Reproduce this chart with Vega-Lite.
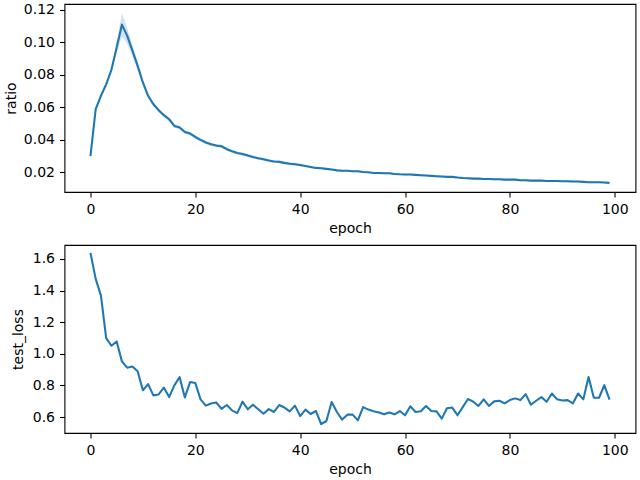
{
"$schema": "https://vega.github.io/schema/vega-lite/v6.json",
"padding": {"left": 3.5, "top": 1, "right": 5, "bottom": 5},
"spacing": 8,
"background": "white",
"config": {
  "font": "DejaVu Sans",
  "view": {"stroke": "black", "strokeWidth": 1.1},
  "axis": {"grid": false, "domain": false, "tickColor": "black", "tickSize": 5, "tickWidth": 1.1, "labelPadding": 5, "labelFontSize": 14, "labelColor": "black", "titleFontSize": 14, "titleFontWeight": "normal", "titleColor": "black", "labelFont": "DejaVu Sans", "titleFont": "DejaVu Sans", "labelFlush": false, "labelOverlap": false}
},
"data": {"values": [
{"epoch":0,"ratio":0.030,"lo":0.0292,"hi":0.0308,"test_loss":1.638},
{"epoch":1,"ratio":0.0588,"lo":0.0578,"hi":0.0598,"test_loss":1.474},
{"epoch":2,"ratio":0.067,"lo":0.0658,"hi":0.0682,"test_loss":1.368},
{"epoch":3,"ratio":0.074,"lo":0.0725,"hi":0.0755,"test_loss":1.099},
{"epoch":4,"ratio":0.083,"lo":0.081,"hi":0.085,"test_loss":1.051},
{"epoch":5,"ratio":0.0967,"lo":0.0932,"hi":0.1002,"test_loss":1.078},
{"epoch":6,"ratio":0.1107,"lo":0.1035,"hi":0.1179,"test_loss":0.952},
{"epoch":7,"ratio":0.104,"lo":0.099,"hi":0.109,"test_loss":0.912},
{"epoch":8,"ratio":0.0947,"lo":0.0912,"hi":0.0982,"test_loss":0.920},
{"epoch":9,"ratio":0.0854,"lo":0.0829,"hi":0.0879,"test_loss":0.890},
{"epoch":10,"ratio":0.0752,"lo":0.0732,"hi":0.0772,"test_loss":0.769},
{"epoch":11,"ratio":0.067,"lo":0.0655,"hi":0.0685,"test_loss":0.808},
{"epoch":12,"ratio":0.0618,"lo":0.0606,"hi":0.0630,"test_loss":0.737},
{"epoch":13,"ratio":0.0582,"lo":0.0570,"hi":0.0594,"test_loss":0.743},
{"epoch":14,"ratio":0.0551,"lo":0.0539,"hi":0.0563,"test_loss":0.786},
{"epoch":15,"ratio":0.0526,"lo":0.0514,"hi":0.0538,"test_loss":0.726},
{"epoch":16,"ratio":0.0485,"lo":0.0473,"hi":0.0497,"test_loss":0.800},
{"epoch":17,"ratio":0.0475,"lo":0.0463,"hi":0.0487,"test_loss":0.853},
{"epoch":18,"ratio":0.0448,"lo":0.0436,"hi":0.0460,"test_loss":0.724},
{"epoch":19,"ratio":0.0438,"lo":0.0426,"hi":0.0450,"test_loss":0.821},
{"epoch":20,"ratio":0.0417,"lo":0.0405,"hi":0.0429,"test_loss":0.815},
{"epoch":21,"ratio":0.0399,"lo":0.0390,"hi":0.0408,"test_loss":0.712},
{"epoch":22,"ratio":0.0383,"lo":0.0374,"hi":0.0392,"test_loss":0.672},
{"epoch":23,"ratio":0.0372,"lo":0.0363,"hi":0.0381,"test_loss":0.686},
{"epoch":24,"ratio":0.0364,"lo":0.0355,"hi":0.0373,"test_loss":0.692},
{"epoch":25,"ratio":0.0360,"lo":0.0351,"hi":0.0369,"test_loss":0.652},
{"epoch":26,"ratio":0.0342,"lo":0.0333,"hi":0.0351,"test_loss":0.676},
{"epoch":27,"ratio":0.0329,"lo":0.0320,"hi":0.0338,"test_loss":0.642},
{"epoch":28,"ratio":0.0319,"lo":0.0310,"hi":0.0328,"test_loss":0.625},
{"epoch":29,"ratio":0.0313,"lo":0.0304,"hi":0.0322,"test_loss":0.697},
{"epoch":30,"ratio":0.0303,"lo":0.0294,"hi":0.0312,"test_loss":0.649},
{"epoch":31,"ratio":0.0294,"lo":0.0285,"hi":0.0303,"test_loss":0.678},
{"epoch":32,"ratio":0.0286,"lo":0.0277,"hi":0.0295,"test_loss":0.649},
{"epoch":33,"ratio":0.0280,"lo":0.0271,"hi":0.0289,"test_loss":0.621},
{"epoch":34,"ratio":0.0272,"lo":0.0263,"hi":0.0281,"test_loss":0.650},
{"epoch":35,"ratio":0.0266,"lo":0.0257,"hi":0.0275,"test_loss":0.632},
{"epoch":36,"ratio":0.0264,"lo":0.0255,"hi":0.0273,"test_loss":0.676},
{"epoch":37,"ratio":0.0258,"lo":0.0249,"hi":0.0267,"test_loss":0.660},
{"epoch":38,"ratio":0.0253,"lo":0.0244,"hi":0.0262,"test_loss":0.636},
{"epoch":39,"ratio":0.0249,"lo":0.0240,"hi":0.0258,"test_loss":0.672},
{"epoch":40,"ratio":0.0245,"lo":0.0236,"hi":0.0254,"test_loss":0.606},
{"epoch":41,"ratio":0.0239,"lo":0.0233,"hi":0.0245,"test_loss":0.647},
{"epoch":42,"ratio":0.0233,"lo":0.0227,"hi":0.0239,"test_loss":0.619},
{"epoch":43,"ratio":0.0227,"lo":0.0221,"hi":0.0233,"test_loss":0.638},
{"epoch":44,"ratio":0.0225,"lo":0.0219,"hi":0.0231,"test_loss":0.556},
{"epoch":45,"ratio":0.0221,"lo":0.0215,"hi":0.0227,"test_loss":0.575},
{"epoch":46,"ratio":0.0217,"lo":0.0211,"hi":0.0223,"test_loss":0.695},
{"epoch":47,"ratio":0.0212,"lo":0.0206,"hi":0.0218,"test_loss":0.632},
{"epoch":48,"ratio":0.0210,"lo":0.0204,"hi":0.0216,"test_loss":0.584},
{"epoch":49,"ratio":0.0210,"lo":0.0204,"hi":0.0216,"test_loss":0.615},
{"epoch":50,"ratio":0.0206,"lo":0.0200,"hi":0.0212,"test_loss":0.615},
{"epoch":51,"ratio":0.0206,"lo":0.0200,"hi":0.0212,"test_loss":0.579},
{"epoch":52,"ratio":0.0202,"lo":0.0196,"hi":0.0208,"test_loss":0.663},
{"epoch":53,"ratio":0.0200,"lo":0.0194,"hi":0.0206,"test_loss":0.647},
{"epoch":54,"ratio":0.0196,"lo":0.0190,"hi":0.0202,"test_loss":0.636},
{"epoch":55,"ratio":0.0196,"lo":0.0190,"hi":0.0202,"test_loss":0.628},
{"epoch":56,"ratio":0.0194,"lo":0.0188,"hi":0.0200,"test_loss":0.617},
{"epoch":57,"ratio":0.0194,"lo":0.0188,"hi":0.0200,"test_loss":0.628},
{"epoch":58,"ratio":0.0190,"lo":0.0184,"hi":0.0196,"test_loss":0.617},
{"epoch":59,"ratio":0.0188,"lo":0.0182,"hi":0.0194,"test_loss":0.638},
{"epoch":60,"ratio":0.0187,"lo":0.0181,"hi":0.0193,"test_loss":0.611},
{"epoch":61,"ratio":0.0186,"lo":0.0180,"hi":0.0192,"test_loss":0.668},
{"epoch":62,"ratio":0.0184,"lo":0.0178,"hi":0.0190,"test_loss":0.632},
{"epoch":63,"ratio":0.0182,"lo":0.0176,"hi":0.0188,"test_loss":0.636},
{"epoch":64,"ratio":0.0180,"lo":0.0174,"hi":0.0186,"test_loss":0.670},
{"epoch":65,"ratio":0.0178,"lo":0.0172,"hi":0.0184,"test_loss":0.638},
{"epoch":66,"ratio":0.0176,"lo":0.0170,"hi":0.0182,"test_loss":0.636},
{"epoch":67,"ratio":0.0174,"lo":0.0168,"hi":0.0180,"test_loss":0.590},
{"epoch":68,"ratio":0.0172,"lo":0.0166,"hi":0.0178,"test_loss":0.656},
{"epoch":69,"ratio":0.0172,"lo":0.0166,"hi":0.0178,"test_loss":0.660},
{"epoch":70,"ratio":0.0168,"lo":0.0162,"hi":0.0174,"test_loss":0.611},
{"epoch":71,"ratio":0.0165,"lo":0.0159,"hi":0.0171,"test_loss":0.663},
{"epoch":72,"ratio":0.0163,"lo":0.0157,"hi":0.0169,"test_loss":0.714},
{"epoch":73,"ratio":0.0161,"lo":0.0155,"hi":0.0167,"test_loss":0.697},
{"epoch":74,"ratio":0.0161,"lo":0.0155,"hi":0.0167,"test_loss":0.670},
{"epoch":75,"ratio":0.0159,"lo":0.0153,"hi":0.0165,"test_loss":0.712},
{"epoch":76,"ratio":0.0159,"lo":0.0153,"hi":0.0165,"test_loss":0.670},
{"epoch":77,"ratio":0.0157,"lo":0.0151,"hi":0.0163,"test_loss":0.699},
{"epoch":78,"ratio":0.0157,"lo":0.0151,"hi":0.0163,"test_loss":0.703},
{"epoch":79,"ratio":0.0155,"lo":0.0149,"hi":0.0161,"test_loss":0.686},
{"epoch":80,"ratio":0.0155,"lo":0.0149,"hi":0.0161,"test_loss":0.707},
{"epoch":81,"ratio":0.0155,"lo":0.0149,"hi":0.0161,"test_loss":0.718},
{"epoch":82,"ratio":0.0151,"lo":0.0145,"hi":0.0157,"test_loss":0.707},
{"epoch":83,"ratio":0.0151,"lo":0.0145,"hi":0.0157,"test_loss":0.745},
{"epoch":84,"ratio":0.0149,"lo":0.0143,"hi":0.0155,"test_loss":0.678},
{"epoch":85,"ratio":0.0149,"lo":0.0143,"hi":0.0155,"test_loss":0.703},
{"epoch":86,"ratio":0.0149,"lo":0.0143,"hi":0.0155,"test_loss":0.726},
{"epoch":87,"ratio":0.0147,"lo":0.0141,"hi":0.0153,"test_loss":0.697},
{"epoch":88,"ratio":0.0147,"lo":0.0141,"hi":0.0153,"test_loss":0.749},
{"epoch":89,"ratio":0.0147,"lo":0.0141,"hi":0.0153,"test_loss":0.712},
{"epoch":90,"ratio":0.0145,"lo":0.0139,"hi":0.0151,"test_loss":0.705},
{"epoch":91,"ratio":0.0145,"lo":0.0139,"hi":0.0151,"test_loss":0.707},
{"epoch":92,"ratio":0.0143,"lo":0.0137,"hi":0.0149,"test_loss":0.686},
{"epoch":93,"ratio":0.0143,"lo":0.0137,"hi":0.0149,"test_loss":0.749},
{"epoch":94,"ratio":0.0141,"lo":0.0135,"hi":0.0147,"test_loss":0.712},
{"epoch":95,"ratio":0.0139,"lo":0.0133,"hi":0.0145,"test_loss":0.853},
{"epoch":96,"ratio":0.0139,"lo":0.0133,"hi":0.0145,"test_loss":0.722},
{"epoch":97,"ratio":0.0139,"lo":0.0133,"hi":0.0145,"test_loss":0.722},
{"epoch":98,"ratio":0.0137,"lo":0.0131,"hi":0.0143,"test_loss":0.802},
{"epoch":99,"ratio":0.0135,"lo":0.0129,"hi":0.0141,"test_loss":0.710}
]},
"vconcat": [
  {
    "width": 571, "height": 188,
    "encoding": {
      "x": {"field": "epoch", "type": "quantitative", "scale": {"domain": [-4.95, 103.95], "nice": false, "zero": false}, "axis": {"title": "epoch", "values": [0, 20, 40, 60, 80, 100], "format": "d", "titlePadding": 5}}
    },
    "layer": [
      {
        "mark": {"type": "area", "color": "#1f77b4", "opacity": 0.2},
        "encoding": {
          "y": {"field": "lo", "type": "quantitative", "scale": {"domain": [0.0079, 0.1234], "nice": false, "zero": false}, "axis": {"title": "ratio", "values": [0.02, 0.04, 0.06, 0.08, 0.10, 0.12], "format": ".2f", "titlePadding": 5}},
          "y2": {"field": "hi"}
        }
      },
      {
        "mark": {"type": "line", "color": "#1f77b4", "strokeWidth": 2.08, "strokeJoin": "round"},
        "encoding": {
          "y": {"field": "ratio", "type": "quantitative", "scale": {"domain": [0.0079, 0.1234], "nice": false, "zero": false}, "axis": {"title": "ratio", "values": [0.02, 0.04, 0.06, 0.08, 0.10, 0.12], "format": ".2f", "titlePadding": 5}}
        }
      }
    ]
  },
  {
    "width": 571, "height": 188,
    "mark": {"type": "line", "color": "#1f77b4", "strokeWidth": 2.08, "strokeJoin": "round"},
    "encoding": {
      "x": {"field": "epoch", "type": "quantitative", "scale": {"domain": [-4.95, 103.95], "nice": false, "zero": false}, "axis": {"title": "epoch", "values": [0, 20, 40, 60, 80, 100], "format": "d", "titlePadding": 5}},
      "y": {"field": "test_loss", "type": "quantitative", "scale": {"domain": [0.499, 1.688], "nice": false, "zero": false}, "axis": {"title": "test_loss", "values": [0.6, 0.8, 1.0, 1.2, 1.4, 1.6], "format": ".1f", "titlePadding": 7}}
    }
  }
]
}
